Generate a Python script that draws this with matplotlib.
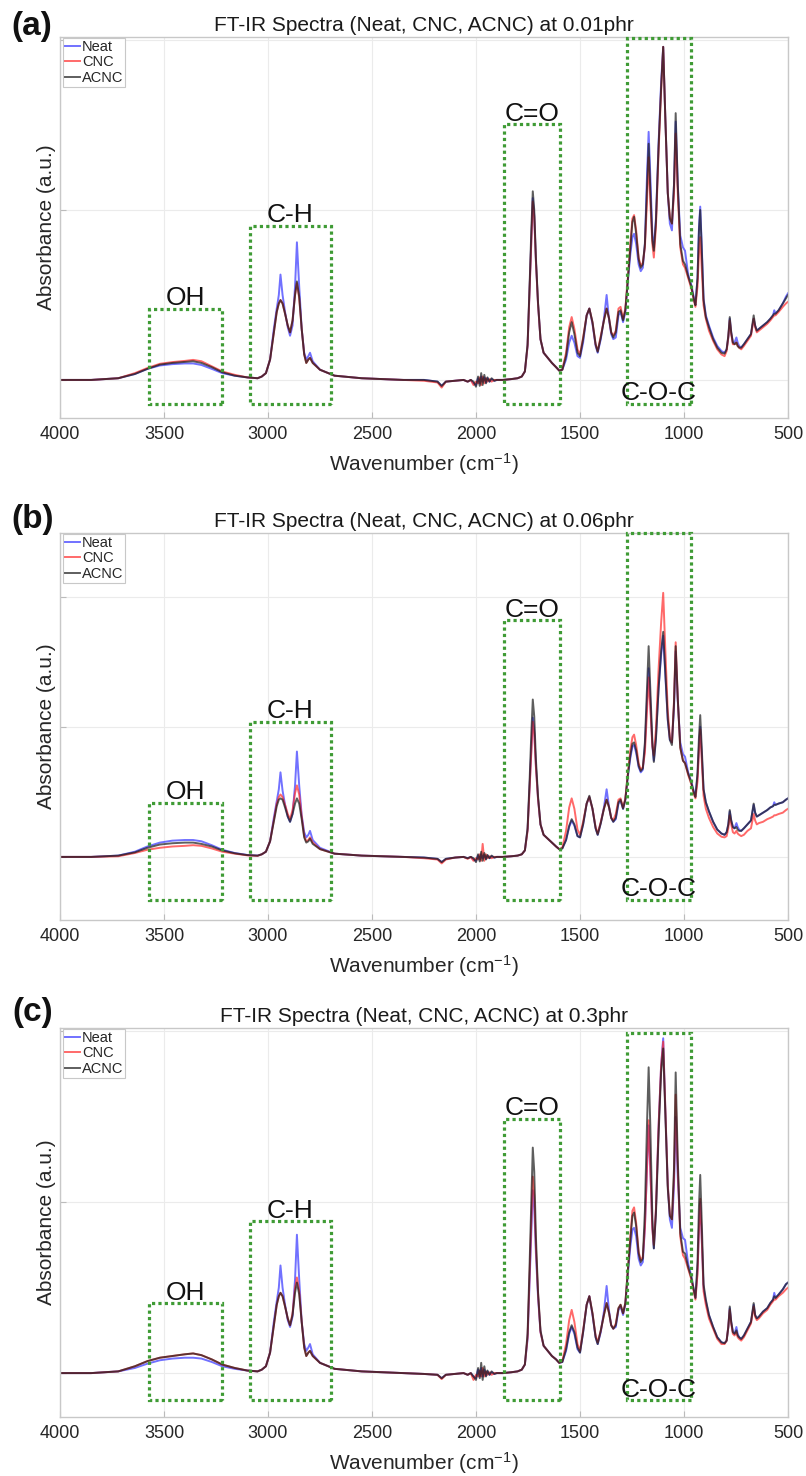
import matplotlib
matplotlib.use('Agg')
import matplotlib.pyplot as plt
from matplotlib.patches import Rectangle

plt.rcParams['font.family'] = ['Liberation Sans', 'DejaVu Sans']
plt.rcParams['mathtext.fontset'] = 'custom'
plt.rcParams['mathtext.rm'] = 'Liberation Sans'
plt.rcParams['mathtext.it'] = 'Liberation Sans:italic'

# ---------------- data ----------------
wavenumber = [
    4000, 3850, 3720, 3640, 3580, 3520, 3460, 3400, 3360, 3320, 3270, 3220, 3160, 3100, 3050,
    3030, 3010, 2990, 2972, 2958, 2948, 2940, 2930, 2918, 2905, 2894, 2882, 2870, 2861, 2850, 2838, 2826, 2816, 2806, 2798, 2785, 2750, 2680,
    2550, 2450, 2350, 2250, 2185, 2165, 2145, 2100, 2060, 2040, 2025, 2012, 2000, 1990, 1982, 1975, 1968, 1960, 1952, 1945, 1935, 1925, 1912, 1900, 1870, 1830, 1800,
    1780, 1765, 1752, 1742, 1734, 1727, 1720, 1712, 1702, 1690, 1675, 1655, 1635, 1615, 1600,
    1585, 1567, 1552, 1540, 1527, 1512, 1500, 1485, 1468, 1455, 1440, 1425, 1415, 1400, 1385, 1372, 1360, 1350, 1340, 1328, 1315, 1305, 1293, 1282, 1270,
    1258, 1248, 1240, 1230, 1218, 1208, 1198, 1188, 1178, 1170, 1162, 1152, 1145, 1135, 1122, 1110, 1100, 1090, 1078, 1068, 1058, 1048, 1040, 1030, 1018, 1005, 995, 980, 965, 952, 945,
    935, 928, 922, 915, 906, 895, 880, 860, 840, 820, 805, 795, 787, 780, 773, 765, 757, 748, 742, 735, 725, 712, 695, 678, 665, 658, 650, 640, 620, 600, 585, 572, 566, 560, 545, 525, 510, 500,
]

# Panel (a) 0.01 phr
neat_a = [
    0.00, 0.00, 0.01, 0.035, 0.065, 0.085, 0.093, 0.097, 0.097, 0.088, 0.065, 0.04, 0.025, 0.015, 0.01,
    0.02, 0.04, 0.12, 0.30, 0.42, 0.50, 0.62, 0.50, 0.40, 0.31, 0.26, 0.32, 0.55, 0.81, 0.55, 0.30, 0.16, 0.12, 0.14, 0.16, 0.11, 0.06, 0.025,
    0.01, 0.005, 0.0, 0.0, -0.01, -0.035, -0.01, -0.005, 0.0, -0.01, 0.0, -0.02, -0.03, 0.01, -0.02, 0.02, -0.01, 0.015, -0.015, 0.01, -0.01, 0.005, -0.005, 0.0, 0.0, 0.005, 0.01,
    0.02, 0.05, 0.20, 0.55, 0.83, 1.07, 0.97, 0.70, 0.45, 0.24, 0.16, 0.13, 0.10, 0.075, 0.055,
    0.06, 0.12, 0.22, 0.26, 0.22, 0.14, 0.13, 0.22, 0.38, 0.42, 0.33, 0.20, 0.16, 0.24, 0.36, 0.50, 0.35, 0.27, 0.24, 0.25, 0.38, 0.40, 0.34, 0.40, 0.58,
    0.74, 0.84, 0.86, 0.80, 0.68, 0.64, 0.66, 0.80, 1.20, 1.46, 1.20, 0.85, 0.78, 0.95, 1.40, 1.75, 1.96, 1.55, 1.10, 0.92, 0.88, 1.15, 1.52, 1.15, 0.85, 0.78, 0.76, 0.62, 0.56, 0.48, 0.44,
    0.60, 0.90, 1.02, 0.80, 0.48, 0.38, 0.32, 0.25, 0.20, 0.17, 0.16, 0.18, 0.25, 0.36, 0.28, 0.22, 0.22, 0.25, 0.22, 0.20, 0.19, 0.21, 0.24, 0.27, 0.36, 0.32, 0.29, 0.30, 0.32, 0.34, 0.36, 0.38, 0.41, 0.39, 0.41, 0.45, 0.49, 0.51,
]
cnc_a = [
    0.00, 0.00, 0.01, 0.04, 0.07, 0.095, 0.105, 0.112, 0.118, 0.11, 0.08, 0.05, 0.03, 0.015, 0.01,
    0.02, 0.04, 0.12, 0.28, 0.40, 0.45, 0.47, 0.45, 0.39, 0.32, 0.28, 0.35, 0.50, 0.57, 0.48, 0.30, 0.15, 0.10, 0.12, 0.13, 0.10, 0.06, 0.025,
    0.01, 0.005, 0.0, -0.005, -0.015, -0.045, -0.01, -0.005, 0.0, -0.01, 0.0, -0.03, -0.01, -0.02, 0.015, -0.03, 0.02, -0.02, 0.01, -0.01, 0.005, -0.01, 0.0, 0.0, 0.0, 0.005, 0.01,
    0.02, 0.05, 0.20, 0.54, 0.80, 1.05, 0.96, 0.70, 0.45, 0.24, 0.16, 0.13, 0.10, 0.075, 0.055,
    0.06, 0.16, 0.31, 0.37, 0.30, 0.18, 0.15, 0.25, 0.38, 0.42, 0.34, 0.21, 0.17, 0.26, 0.35, 0.42, 0.36, 0.28, 0.26, 0.29, 0.42, 0.43, 0.36, 0.42, 0.60,
    0.80, 0.95, 0.97, 0.88, 0.72, 0.67, 0.69, 0.78, 1.05, 1.31, 1.05, 0.80, 0.72, 0.90, 1.35, 1.70, 1.96, 1.55, 1.10, 0.96, 0.92, 1.10, 1.45, 1.10, 0.78, 0.68, 0.66, 0.60, 0.54, 0.47, 0.43,
    0.55, 0.75, 0.84, 0.66, 0.44, 0.36, 0.29, 0.23, 0.18, 0.15, 0.14, 0.17, 0.25, 0.35, 0.27, 0.21, 0.21, 0.22, 0.20, 0.19, 0.18, 0.20, 0.23, 0.26, 0.36, 0.31, 0.28, 0.29, 0.31, 0.33, 0.35, 0.37, 0.38, 0.38, 0.40, 0.43, 0.45, 0.46,
]
acnc_a = [
    0.00, 0.00, 0.01, 0.035, 0.065, 0.09, 0.10, 0.106, 0.11, 0.10, 0.075, 0.045, 0.025, 0.015, 0.01,
    0.02, 0.04, 0.12, 0.28, 0.40, 0.45, 0.47, 0.45, 0.39, 0.32, 0.28, 0.35, 0.50, 0.58, 0.49, 0.30, 0.15, 0.10, 0.12, 0.13, 0.10, 0.06, 0.025,
    0.01, 0.005, 0.0, 0.0, -0.01, -0.035, -0.01, -0.005, 0.0, -0.01, 0.0, -0.01, -0.04, 0.02, -0.035, 0.04, -0.03, 0.03, -0.02, 0.015, -0.01, 0.01, -0.005, 0.0, 0.0, 0.005, 0.01,
    0.02, 0.05, 0.21, 0.57, 0.88, 1.11, 1.00, 0.72, 0.46, 0.24, 0.16, 0.13, 0.10, 0.075, 0.055,
    0.06, 0.14, 0.28, 0.34, 0.27, 0.16, 0.14, 0.24, 0.38, 0.42, 0.34, 0.21, 0.165, 0.25, 0.35, 0.42, 0.36, 0.28, 0.25, 0.28, 0.40, 0.41, 0.35, 0.41, 0.59,
    0.78, 0.93, 0.96, 0.86, 0.71, 0.66, 0.68, 0.80, 1.12, 1.39, 1.12, 0.82, 0.76, 0.93, 1.38, 1.72, 1.96, 1.55, 1.10, 0.95, 0.92, 1.15, 1.57, 1.15, 0.80, 0.70, 0.68, 0.61, 0.55, 0.47, 0.44,
    0.60, 0.88, 1.00, 0.78, 0.47, 0.37, 0.31, 0.24, 0.19, 0.16, 0.155, 0.18, 0.26, 0.37, 0.28, 0.22, 0.21, 0.22, 0.20, 0.19, 0.19, 0.21, 0.24, 0.27, 0.38, 0.32, 0.29, 0.30, 0.32, 0.34, 0.36, 0.38, 0.39, 0.39, 0.41, 0.45, 0.48, 0.50,
]

# Panel (b) 0.06 phr
neat_b = [
    0.00, 0.00, 0.01, 0.04, 0.08, 0.11, 0.125, 0.13, 0.13, 0.12, 0.09, 0.055, 0.03, 0.015, 0.01,
    0.02, 0.04, 0.12, 0.30, 0.43, 0.52, 0.65, 0.51, 0.40, 0.31, 0.27, 0.33, 0.55, 0.81, 0.55, 0.32, 0.19, 0.15, 0.17, 0.20, 0.13, 0.07, 0.025,
    0.01, 0.005, 0.0, -0.005, -0.015, -0.04, -0.015, -0.005, 0.0, -0.01, 0.0, -0.02, -0.03, 0.01, -0.02, 0.02, -0.01, 0.015, -0.015, 0.01, -0.01, 0.005, -0.005, 0.0, 0.0, 0.005, 0.01,
    0.02, 0.05, 0.21, 0.56, 0.84, 1.07, 0.97, 0.70, 0.45, 0.25, 0.17, 0.14, 0.11, 0.08, 0.06,
    0.065, 0.13, 0.23, 0.28, 0.24, 0.16, 0.15, 0.25, 0.41, 0.46, 0.37, 0.22, 0.17, 0.26, 0.38, 0.52, 0.38, 0.30, 0.27, 0.29, 0.41, 0.43, 0.37, 0.44, 0.62,
    0.76, 0.85, 0.86, 0.80, 0.69, 0.65, 0.67, 0.85, 1.20, 1.45, 1.20, 0.85, 0.74, 0.92, 1.30, 1.55, 1.70, 1.40, 1.05, 0.90, 0.88, 1.15, 1.58, 1.20, 0.88, 0.79, 0.77, 0.65, 0.58, 0.50, 0.47,
    0.62, 0.85, 1.00, 0.80, 0.52, 0.42, 0.35, 0.27, 0.21, 0.18, 0.17, 0.19, 0.25, 0.35, 0.28, 0.23, 0.22, 0.26, 0.23, 0.21, 0.20, 0.22, 0.25, 0.28, 0.40, 0.34, 0.31, 0.32, 0.34, 0.36, 0.38, 0.39, 0.42, 0.40, 0.41, 0.42, 0.44, 0.45,
]
cnc_b = [
    0.00, 0.00, 0.005, 0.03, 0.055, 0.07, 0.08, 0.085, 0.09, 0.085, 0.065, 0.04, 0.025, 0.012, 0.008,
    0.02, 0.04, 0.12, 0.28, 0.41, 0.46, 0.48, 0.46, 0.40, 0.33, 0.29, 0.36, 0.49, 0.55, 0.48, 0.31, 0.16, 0.12, 0.13, 0.15, 0.11, 0.06, 0.025,
    0.01, 0.005, 0.0, -0.01, -0.02, -0.05, -0.02, -0.005, 0.0, -0.015, 0.0, -0.03, -0.01, -0.02, 0.02, -0.03, 0.10, -0.03, 0.02, -0.01, 0.005, -0.01, 0.0, 0.0, 0.0, 0.005, 0.01,
    0.02, 0.05, 0.20, 0.54, 0.82, 1.04, 0.95, 0.69, 0.45, 0.25, 0.17, 0.14, 0.11, 0.08, 0.06,
    0.07, 0.20, 0.38, 0.45, 0.37, 0.21, 0.17, 0.27, 0.41, 0.46, 0.37, 0.23, 0.18, 0.27, 0.37, 0.44, 0.38, 0.30, 0.28, 0.33, 0.44, 0.45, 0.38, 0.45, 0.64,
    0.82, 0.92, 0.94, 0.86, 0.72, 0.67, 0.69, 0.80, 1.12, 1.38, 1.15, 0.85, 0.78, 0.98, 1.45, 1.80, 2.03, 1.60, 1.12, 0.92, 0.88, 1.20, 1.65, 1.22, 0.84, 0.74, 0.72, 0.63, 0.56, 0.48, 0.45,
    0.58, 0.82, 0.98, 0.76, 0.47, 0.37, 0.30, 0.23, 0.18, 0.155, 0.15, 0.16, 0.22, 0.32, 0.25, 0.19, 0.18, 0.20, 0.18, 0.17, 0.16, 0.17, 0.20, 0.22, 0.33, 0.28, 0.25, 0.26, 0.27, 0.29, 0.30, 0.31, 0.32, 0.32, 0.33, 0.34, 0.36, 0.37,
]
acnc_b = [
    0.00, 0.00, 0.01, 0.035, 0.07, 0.095, 0.105, 0.11, 0.11, 0.10, 0.08, 0.05, 0.028, 0.014, 0.01,
    0.02, 0.04, 0.12, 0.27, 0.39, 0.44, 0.45, 0.44, 0.38, 0.31, 0.27, 0.33, 0.41, 0.45, 0.41, 0.29, 0.15, 0.11, 0.12, 0.14, 0.10, 0.06, 0.025,
    0.01, 0.005, 0.0, -0.005, -0.015, -0.04, -0.015, -0.005, 0.0, -0.01, 0.0, -0.01, -0.04, 0.02, -0.035, 0.04, -0.03, 0.03, -0.02, 0.015, -0.01, 0.01, -0.005, 0.0, 0.0, 0.005, 0.01,
    0.02, 0.05, 0.22, 0.60, 0.95, 1.21, 1.08, 0.75, 0.47, 0.25, 0.17, 0.14, 0.11, 0.08, 0.06,
    0.065, 0.13, 0.24, 0.29, 0.25, 0.16, 0.15, 0.25, 0.41, 0.47, 0.37, 0.22, 0.17, 0.26, 0.37, 0.44, 0.38, 0.30, 0.27, 0.30, 0.42, 0.44, 0.37, 0.44, 0.63,
    0.78, 0.87, 0.88, 0.82, 0.70, 0.66, 0.68, 0.88, 1.30, 1.62, 1.30, 0.88, 0.73, 0.90, 1.30, 1.58, 1.73, 1.42, 1.06, 0.90, 0.86, 1.18, 1.62, 1.22, 0.84, 0.74, 0.72, 0.64, 0.57, 0.49, 0.46,
    0.65, 0.92, 1.09, 0.85, 0.52, 0.42, 0.35, 0.27, 0.21, 0.18, 0.17, 0.19, 0.25, 0.36, 0.28, 0.23, 0.22, 0.23, 0.21, 0.20, 0.20, 0.22, 0.25, 0.28, 0.41, 0.34, 0.31, 0.32, 0.34, 0.36, 0.38, 0.39, 0.40, 0.40, 0.41, 0.42, 0.44, 0.45,
]

# Panel (c) 0.3 phr
neat_c = [
    0.00, 0.00, 0.01, 0.03, 0.055, 0.075, 0.085, 0.09, 0.09, 0.085, 0.065, 0.04, 0.025, 0.015, 0.01,
    0.02, 0.04, 0.12, 0.30, 0.42, 0.50, 0.63, 0.50, 0.40, 0.31, 0.27, 0.33, 0.55, 0.81, 0.55, 0.30, 0.17, 0.13, 0.15, 0.17, 0.11, 0.06, 0.025,
    0.01, 0.005, 0.0, -0.005, -0.01, -0.03, -0.01, -0.005, 0.0, -0.01, 0.0, -0.02, -0.03, 0.02, -0.02, 0.03, -0.02, 0.02, -0.015, 0.01, -0.01, 0.005, -0.005, 0.0, 0.0, 0.005, 0.01,
    0.02, 0.05, 0.20, 0.55, 0.82, 1.07, 0.97, 0.70, 0.45, 0.24, 0.16, 0.13, 0.10, 0.08, 0.06,
    0.065, 0.13, 0.23, 0.27, 0.23, 0.14, 0.12, 0.24, 0.40, 0.45, 0.34, 0.21, 0.17, 0.24, 0.36, 0.51, 0.36, 0.28, 0.26, 0.27, 0.37, 0.39, 0.34, 0.40, 0.58,
    0.74, 0.84, 0.85, 0.80, 0.67, 0.63, 0.65, 0.85, 1.20, 1.45, 1.20, 0.85, 0.73, 0.95, 1.45, 1.80, 1.96, 1.55, 1.10, 0.90, 0.85, 1.10, 1.50, 1.15, 0.85, 0.79, 0.78, 0.64, 0.57, 0.48, 0.44,
    0.60, 0.85, 1.00, 0.80, 0.50, 0.42, 0.34, 0.27, 0.21, 0.18, 0.175, 0.19, 0.27, 0.38, 0.30, 0.24, 0.23, 0.27, 0.23, 0.21, 0.20, 0.22, 0.26, 0.30, 0.40, 0.34, 0.32, 0.33, 0.36, 0.38, 0.41, 0.43, 0.47, 0.44, 0.46, 0.49, 0.52, 0.53,
]
cnc_c = [
    0.00, 0.00, 0.01, 0.04, 0.07, 0.09, 0.10, 0.11, 0.115, 0.105, 0.08, 0.05, 0.03, 0.015, 0.01,
    0.02, 0.04, 0.12, 0.28, 0.40, 0.45, 0.47, 0.45, 0.39, 0.32, 0.28, 0.35, 0.50, 0.56, 0.48, 0.30, 0.15, 0.10, 0.12, 0.13, 0.10, 0.06, 0.025,
    0.01, 0.005, 0.0, -0.005, -0.01, -0.035, -0.01, -0.005, 0.0, -0.01, 0.0, -0.04, -0.01, -0.02, 0.015, -0.02, 0.03, -0.02, 0.01, -0.01, 0.005, -0.01, 0.0, 0.0, 0.0, 0.005, 0.01,
    0.02, 0.05, 0.21, 0.59, 0.88, 1.15, 1.04, 0.74, 0.47, 0.24, 0.16, 0.13, 0.10, 0.08, 0.06,
    0.07, 0.17, 0.31, 0.37, 0.30, 0.17, 0.13, 0.25, 0.40, 0.45, 0.35, 0.22, 0.18, 0.25, 0.34, 0.41, 0.35, 0.28, 0.26, 0.29, 0.38, 0.40, 0.35, 0.41, 0.60,
    0.80, 0.95, 0.97, 0.88, 0.71, 0.66, 0.68, 0.85, 1.20, 1.48, 1.20, 0.84, 0.75, 0.96, 1.45, 1.80, 1.94, 1.55, 1.10, 0.93, 0.90, 1.15, 1.63, 1.20, 0.80, 0.69, 0.67, 0.61, 0.55, 0.47, 0.43,
    0.58, 0.85, 1.02, 0.80, 0.48, 0.40, 0.32, 0.26, 0.20, 0.17, 0.17, 0.19, 0.27, 0.37, 0.29, 0.23, 0.22, 0.24, 0.21, 0.20, 0.19, 0.21, 0.25, 0.29, 0.39, 0.33, 0.31, 0.32, 0.35, 0.37, 0.40, 0.42, 0.43, 0.43, 0.45, 0.47, 0.49, 0.50,
]
acnc_c = [
    0.00, 0.00, 0.01, 0.04, 0.07, 0.09, 0.10, 0.11, 0.115, 0.105, 0.08, 0.05, 0.03, 0.015, 0.01,
    0.02, 0.04, 0.12, 0.28, 0.40, 0.45, 0.47, 0.45, 0.39, 0.32, 0.28, 0.34, 0.47, 0.53, 0.46, 0.30, 0.15, 0.10, 0.12, 0.13, 0.10, 0.06, 0.025,
    0.01, 0.005, 0.0, -0.005, -0.01, -0.03, -0.01, -0.005, 0.0, -0.01, 0.0, -0.02, -0.04, 0.03, -0.03, 0.06, -0.04, 0.04, -0.02, 0.015, -0.01, 0.01, -0.005, 0.0, 0.0, 0.005, 0.01,
    0.02, 0.05, 0.23, 0.65, 1.02, 1.32, 1.18, 0.80, 0.48, 0.25, 0.16, 0.13, 0.10, 0.08, 0.06,
    0.065, 0.14, 0.24, 0.28, 0.24, 0.15, 0.12, 0.24, 0.40, 0.45, 0.35, 0.21, 0.17, 0.25, 0.34, 0.41, 0.35, 0.28, 0.26, 0.28, 0.38, 0.40, 0.35, 0.41, 0.60,
    0.78, 0.92, 0.94, 0.86, 0.70, 0.65, 0.67, 0.95, 1.45, 1.79, 1.45, 0.90, 0.73, 0.93, 1.40, 1.76, 1.90, 1.52, 1.08, 0.92, 0.90, 1.20, 1.76, 1.25, 0.82, 0.71, 0.70, 0.62, 0.56, 0.48, 0.44,
    0.65, 0.98, 1.16, 0.90, 0.52, 0.43, 0.34, 0.27, 0.21, 0.18, 0.175, 0.19, 0.27, 0.39, 0.30, 0.24, 0.23, 0.25, 0.22, 0.21, 0.20, 0.22, 0.26, 0.30, 0.41, 0.34, 0.32, 0.33, 0.36, 0.38, 0.41, 0.43, 0.45, 0.44, 0.46, 0.49, 0.52, 0.53,
]

panel_labels = ['(a)', '(b)', '(c)']
loadings = ['0.01phr', '0.06phr', '0.3phr']
series_names = ['Neat', 'CNC', 'ACNC']
panel_series = [
    [neat_a, cnc_a, acnc_a],
    [neat_b, cnc_b, acnc_b],
    [neat_c, cnc_c, acnc_c],
]
band_names = ['OH', 'C-H', 'C=O', 'C-O-C']
band_ranges = [(3572, 3221), (3087, 2697), (1865, 1596), (1274, 966)]
xtick_values = [4000, 3500, 3000, 2500, 2000, 1500, 1000, 500]

# ---------------- layout / style ----------------
W, H = 806, 1476
axes_px = [(60, 37, 788, 418), (60, 533, 788, 920), (60, 1028, 788, 1417)]
ylims = [(-0.224, 2.018), (-0.485, 2.49), (-0.257, 2.02)]
box_tops = [[0.42, 0.906, 1.506, 2.01], [0.415, 1.04, 1.82, 2.49], [0.41, 0.89, 1.49, 1.99]]
box_bottoms = [-0.14, -0.33, -0.158]
label_pos = [(32, 26), (33, 520), (33, 1013)]
colors = ['#3535ff', '#ff2a2a', '#1a1a1a']
green = '#3f9b35'

fig = plt.figure(figsize=(W / 100, H / 100), dpi=100)

for i in range(3):
    x0, y0, x1, y1 = axes_px[i]
    ax = fig.add_axes([x0 / W, 1 - y1 / H, (x1 - x0) / W, (y1 - y0) / H])
    for name, ys, c in zip(series_names, panel_series[i], colors):
        ax.plot(wavenumber, ys, color=c, lw=1.4, alpha=0.7, label=name)
    ax.set_xlim(4000, 500)
    ax.set_ylim(*ylims[i])
    ax.set_xticks(xtick_values)
    ax.set_xticklabels([str(v) for v in xtick_values])
    ax.set_yticks([0, 1, 2])
    ax.set_yticklabels([])
    ax.grid(True, color='#ebebeb', lw=0.8)
    ax.set_axisbelow(True)
    for sp in ax.spines.values():
        sp.set_color('#c8c8c8')
        sp.set_linewidth(1.0)
    ax.tick_params(direction='in', length=4, color='#bbbbbb', labelsize=13,
                   labelcolor='#262626', pad=6)
    ax.set_title(f'FT-IR Spectra (Neat, CNC, ACNC) at {loadings[i]}', fontsize=15,
                 pad=4, color='#1a1a1a')
    ax.set_ylabel('Absorbance (a.u.)', fontsize=15, color='#262626')
    ax.yaxis.set_label_coords(-0.005, 0.5)
    ax.set_xlabel('Wavenumber (cm$^{-1}$)', fontsize=15, color='#262626', va='center')
    ax.xaxis.set_label_coords(0.5, -46 / (y1 - y0))

    # dotted band boxes
    for (hi, lo), top, bname in zip(band_ranges, box_tops[i], band_names):
        bottom = box_bottoms[i]
        rect = Rectangle((lo, bottom), hi - lo, top - bottom, fill=False,
                         edgecolor=green, lw=2.3, linestyle=(0, (1, 1.0)),
                         clip_on=False, zorder=5)
        ax.add_patch(rect)
        xc = (hi + lo) / 2
        yref = bottom if bname == 'C-O-C' else top
        ax.annotate(bname, xy=(xc, yref), xytext=(0, 2.5), textcoords='offset points',
                    ha='center', va='baseline', fontsize=19, color='#111111', zorder=6)

    leg = ax.legend(loc='upper left', bbox_to_anchor=(0.004, 0.998), fontsize=10.5,
                    frameon=True, fancybox=False, edgecolor='#c8c8c8', framealpha=1,
                    borderpad=0.15, labelspacing=0.1, handlelength=1.0,
                    handletextpad=0.15, borderaxespad=0)
    leg.get_frame().set_linewidth(0.8)
    for t in leg.get_texts():
        t.set_color('#262626')

    lx, ly = label_pos[i]
    fig.text(lx / W, 1 - ly / H, panel_labels[i], fontsize=24, fontweight='bold',
             ha='center', va='center', color='#111111')

fig.savefig('out.png', dpi=100)
